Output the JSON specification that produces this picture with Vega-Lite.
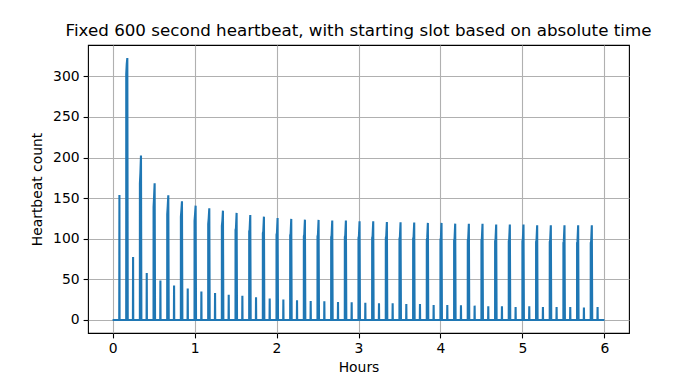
{
  "$schema": "https://vega.github.io/schema/vega-lite/v6.json",
  "width": 541,
  "height": 288,
  "autosize": "none",
  "padding": {"left": 88, "top": 45, "right": 71, "bottom": 42},
  "background": "white",
  "title": {"text": "Fixed 600 second heartbeat, with starting slot based on absolute time", "font": "DejaVu Sans", "fontSize": 16.7, "fontWeight": "normal", "color": "black", "anchor": "middle", "frame": "group", "offset": 5},
  "config": {
    "view": {"stroke": "black", "strokeWidth": 1.1},
    "axis": {"domain": false, "grid": true, "gridColor": "#b0b0b0", "gridWidth": 1.1, "tickColor": "black", "tickSize": 4.9, "tickWidth": 1.1, "labelFont": "DejaVu Sans", "labelFontSize": 13.9, "labelColor": "black", "labelPadding": 4, "titleFont": "DejaVu Sans", "titleFontSize": 13.9, "titleFontWeight": "normal", "titleColor": "black"}
  },
  "data": {"values": [
    {"h":0,"c":0},
    {"h":0.0813,"c":0},{"h":0.0833,"c":153.9},{"h":0.0853,"c":0},
    {"h":0.1662,"c":0},{"h":0.1667,"c":303},{"h":0.1727,"c":315},{"h":0.1797,"c":322.5},{"h":0.1847,"c":0},
    {"h":0.248,"c":0},{"h":0.25,"c":77.4},{"h":0.252,"c":0},
    {"h":0.3328,"c":0},{"h":0.3333,"c":168},{"h":0.3393,"c":181},{"h":0.3463,"c":202.6},{"h":0.3513,"c":0},
    {"h":0.4147,"c":0},{"h":0.4167,"c":57.7},{"h":0.4187,"c":0},
    {"h":0.4995,"c":0},{"h":0.5,"c":139},{"h":0.506,"c":151},{"h":0.513,"c":168.2},{"h":0.518,"c":0},
    {"h":0.5813,"c":0},{"h":0.5833,"c":48.6},{"h":0.5853,"c":0},
    {"h":0.6662,"c":0},{"h":0.6667,"c":130},{"h":0.6727,"c":140},{"h":0.6797,"c":153.5},{"h":0.6847,"c":0},
    {"h":0.748,"c":0},{"h":0.75,"c":42.5},{"h":0.752,"c":0},
    {"h":0.8328,"c":0},{"h":0.8333,"c":127},{"h":0.8393,"c":135},{"h":0.8463,"c":146.1},{"h":0.8513,"c":0},
    {"h":0.9147,"c":0},{"h":0.9167,"c":38.8},{"h":0.9187,"c":0},
    {"h":0.9995,"c":0},{"h":1.0,"c":122},{"h":1.006,"c":130},{"h":1.013,"c":140.7},{"h":1.018,"c":0},
    {"h":1.0813,"c":0},{"h":1.0833,"c":35.1},{"h":1.0853,"c":0},
    {"h":1.1662,"c":0},{"h":1.1667,"c":118},{"h":1.1727,"c":125},{"h":1.1797,"c":137.5},{"h":1.1847,"c":0},
    {"h":1.248,"c":0},{"h":1.25,"c":33.2},{"h":1.252,"c":0},
    {"h":1.3328,"c":0},{"h":1.3333,"c":116},{"h":1.3393,"c":122},{"h":1.3463,"c":134.6},{"h":1.3513,"c":0},
    {"h":1.4147,"c":0},{"h":1.4167,"c":31},{"h":1.4187,"c":0},
    {"h":1.4995,"c":0},{"h":1.5,"c":111},{"h":1.505,"c":113},{"h":1.513,"c":131.8},{"h":1.518,"c":0},
    {"h":1.5813,"c":0},{"h":1.5833,"c":29.8},{"h":1.5853,"c":0},
    {"h":1.6662,"c":0},{"h":1.6667,"c":109},{"h":1.6717,"c":111},{"h":1.6797,"c":129.3},{"h":1.6847,"c":0},
    {"h":1.748,"c":0},{"h":1.75,"c":27.8},{"h":1.752,"c":0},
    {"h":1.8328,"c":0},{"h":1.8333,"c":107},{"h":1.8383,"c":109},{"h":1.8463,"c":127.2},{"h":1.8513,"c":0},
    {"h":1.9147,"c":0},{"h":1.9167,"c":26.5},{"h":1.9187,"c":0},
    {"h":1.9995,"c":0},{"h":2.0,"c":105},{"h":2.005,"c":107},{"h":2.013,"c":125.6},{"h":2.018,"c":0},
    {"h":2.0813,"c":0},{"h":2.0833,"c":25.3},{"h":2.0853,"c":0},
    {"h":2.1662,"c":0},{"h":2.1667,"c":104},{"h":2.1717,"c":106},{"h":2.1797,"c":124.4},{"h":2.1847,"c":0},
    {"h":2.248,"c":0},{"h":2.25,"c":24.1},{"h":2.252,"c":0},
    {"h":2.3328,"c":0},{"h":2.3333,"c":103},{"h":2.3383,"c":105},{"h":2.3463,"c":123.5},{"h":2.3513,"c":0},
    {"h":2.4147,"c":0},{"h":2.4167,"c":23.3},{"h":2.4187,"c":0},
    {"h":2.4995,"c":0},{"h":2.5,"c":103},{"h":2.505,"c":105},{"h":2.513,"c":123.2},{"h":2.518,"c":0},
    {"h":2.5813,"c":0},{"h":2.5833,"c":22.9},{"h":2.5853,"c":0},
    {"h":2.6662,"c":0},{"h":2.6667,"c":102},{"h":2.6717,"c":104},{"h":2.6797,"c":122.3},{"h":2.6847,"c":0},
    {"h":2.748,"c":0},{"h":2.75,"c":22.1},{"h":2.752,"c":0},
    {"h":2.8328,"c":0},{"h":2.8333,"c":102},{"h":2.8383,"c":104},{"h":2.8463,"c":122.3},{"h":2.8513,"c":0},
    {"h":2.9147,"c":0},{"h":2.9167,"c":21.7},{"h":2.9187,"c":0},
    {"h":2.9995,"c":0},{"h":3.0,"c":101},{"h":3.005,"c":103},{"h":3.013,"c":121.6},{"h":3.018,"c":0},
    {"h":3.0813,"c":0},{"h":3.0833,"c":21.2},{"h":3.0853,"c":0},
    {"h":3.1662,"c":0},{"h":3.1667,"c":101},{"h":3.1717,"c":103},{"h":3.1797,"c":121.6},{"h":3.1847,"c":0},
    {"h":3.248,"c":0},{"h":3.25,"c":20.6},{"h":3.252,"c":0},
    {"h":3.3328,"c":0},{"h":3.3333,"c":101},{"h":3.3383,"c":103},{"h":3.3463,"c":120.7},{"h":3.3513,"c":0},
    {"h":3.4147,"c":0},{"h":3.4167,"c":20.4},{"h":3.4187,"c":0},
    {"h":3.4995,"c":0},{"h":3.5,"c":100},{"h":3.505,"c":102},{"h":3.513,"c":120.3},{"h":3.518,"c":0},
    {"h":3.5813,"c":0},{"h":3.5833,"c":19.6},{"h":3.5853,"c":0},
    {"h":3.6662,"c":0},{"h":3.6667,"c":100},{"h":3.6717,"c":102},{"h":3.6797,"c":119.9},{"h":3.6847,"c":0},
    {"h":3.748,"c":0},{"h":3.75,"c":19.6},{"h":3.752,"c":0},
    {"h":3.8328,"c":0},{"h":3.8333,"c":99},{"h":3.8383,"c":101},{"h":3.8463,"c":119.5},{"h":3.8513,"c":0},
    {"h":3.9147,"c":0},{"h":3.9167,"c":18.4},{"h":3.9187,"c":0},
    {"h":3.9995,"c":0},{"h":4.0,"c":99},{"h":4.005,"c":101},{"h":4.013,"c":119.5},{"h":4.018,"c":0},
    {"h":4.0813,"c":0},{"h":4.0833,"c":18.4},{"h":4.0853,"c":0},
    {"h":4.1662,"c":0},{"h":4.1667,"c":98},{"h":4.1717,"c":100},{"h":4.1797,"c":118.6},{"h":4.1847,"c":0},
    {"h":4.248,"c":0},{"h":4.25,"c":18.0},{"h":4.252,"c":0},
    {"h":4.3328,"c":0},{"h":4.3333,"c":98},{"h":4.3383,"c":100},{"h":4.3463,"c":118.3},{"h":4.3513,"c":0},
    {"h":4.4147,"c":0},{"h":4.4167,"c":17.6},{"h":4.4187,"c":0},
    {"h":4.4995,"c":0},{"h":4.5,"c":98},{"h":4.505,"c":100},{"h":4.513,"c":118.3},{"h":4.518,"c":0},
    {"h":4.5813,"c":0},{"h":4.5833,"c":16.8},{"h":4.5853,"c":0},
    {"h":4.6662,"c":0},{"h":4.6667,"c":97},{"h":4.6717,"c":99},{"h":4.6797,"c":117.5},{"h":4.6847,"c":0},
    {"h":4.748,"c":0},{"h":4.75,"c":16.8},{"h":4.752,"c":0},
    {"h":4.8328,"c":0},{"h":4.8333,"c":97},{"h":4.8383,"c":99},{"h":4.8463,"c":117.5},{"h":4.8513,"c":0},
    {"h":4.9147,"c":0},{"h":4.9167,"c":16.0},{"h":4.9187,"c":0},
    {"h":4.9995,"c":0},{"h":5.0,"c":97},{"h":5.005,"c":99},{"h":5.013,"c":117.5},{"h":5.018,"c":0},
    {"h":5.0813,"c":0},{"h":5.0833,"c":16.8},{"h":5.0853,"c":0},
    {"h":5.1662,"c":0},{"h":5.1667,"c":96},{"h":5.1717,"c":98},{"h":5.1797,"c":116.7},{"h":5.1847,"c":0},
    {"h":5.248,"c":0},{"h":5.25,"c":16.0},{"h":5.252,"c":0},
    {"h":5.3328,"c":0},{"h":5.3333,"c":96},{"h":5.3383,"c":98},{"h":5.3463,"c":116.7},{"h":5.3513,"c":0},
    {"h":5.4147,"c":0},{"h":5.4167,"c":16.0},{"h":5.4187,"c":0},
    {"h":5.4995,"c":0},{"h":5.5,"c":95},{"h":5.505,"c":97},{"h":5.513,"c":116.7},{"h":5.518,"c":0},
    {"h":5.5813,"c":0},{"h":5.5833,"c":16.0},{"h":5.5853,"c":0},
    {"h":5.6662,"c":0},{"h":5.6667,"c":95},{"h":5.6717,"c":97},{"h":5.6797,"c":116.7},{"h":5.6847,"c":0},
    {"h":5.748,"c":0},{"h":5.75,"c":15.3},{"h":5.752,"c":0},
    {"h":5.8328,"c":0},{"h":5.8333,"c":95},{"h":5.8383,"c":97},{"h":5.8463,"c":116.7},{"h":5.8513,"c":0},
    {"h":5.9147,"c":0},{"h":5.9167,"c":16.0},{"h":5.9187,"c":0},
    {"h":6.0,"c":0}
  ]},
  "mark": {"type": "line", "color": "#1f77b4", "strokeWidth": 2.1, "clip": true},
  "encoding": {
    "x": {"field": "h", "type": "quantitative", "title": "Hours", "scale": {"domain": [-0.3, 6.3], "nice": false, "zero": false}, "axis": {"values": [0, 1, 2, 3, 4, 5, 6], "format": "d", "titlePadding": 5}},
    "y": {"field": "c", "type": "quantitative", "title": "Heartbeat count", "scale": {"domain": [-16.1, 338.6], "nice": false, "zero": false}, "axis": {"values": [0, 50, 100, 150, 200, 250, 300], "format": "d", "titlePadding": 8}}
  }
}
